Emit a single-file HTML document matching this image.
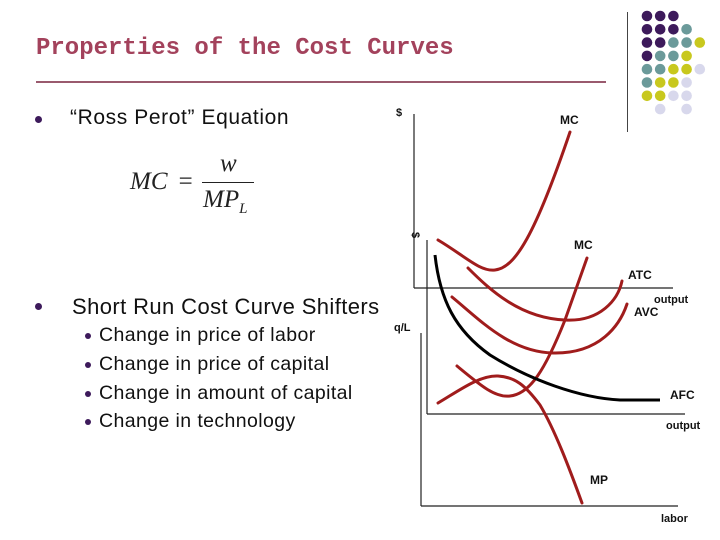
<!DOCTYPE html>
<html><head><meta charset="utf-8"><style>
body{margin:0;width:720px;height:540px;background:#fff;position:relative;overflow:hidden;font-family:"Liberation Sans",sans-serif}
.t{position:absolute;white-space:nowrap}
.b{position:absolute;width:7px;height:7px;border-radius:50%;background:#3d1a5b}
</style></head><body>
<div class="t" style="left:36px;top:35px;font-family:'Liberation Mono',monospace;font-weight:bold;font-size:24px;color:#a3425c">Properties of the Cost Curves</div>
<div style="position:absolute;left:36px;top:81px;width:570px;height:2px;background:#9a5a6e"></div>
<div style="position:absolute;left:627px;top:12px;width:1px;height:120px;background:#444"></div>
<svg id="dots" width="720" height="540" style="position:absolute;left:0;top:0"></svg>
<div class="b" style="left:35px;top:116px"></div>
<div class="t" style="left:70px;top:106px;font-size:21px;letter-spacing:0.6px;color:#111">“Ross Perot” Equation</div>
<div style="position:absolute;left:130px;top:150px;font-family:'Liberation Serif',serif;font-style:italic;font-size:25px;color:#222">
<span style="position:absolute;left:0;top:18px">MC</span><span style="position:absolute;left:47px;top:18px">=</span>
<span style="position:absolute;left:90px;top:0">w</span>
<div style="position:absolute;left:72px;top:32px;width:52px;height:1px;background:#222"></div>
<span style="position:absolute;left:73px;top:36px">MP<sub style="font-size:15px">L</sub></span></div>
<div class="b" style="left:35px;top:303px"></div>
<div class="t" style="left:72px;top:294px;font-size:22px;letter-spacing:0.4px;color:#111">Short Run Cost Curve Shifters</div>
<div class="b" style="left:85px;top:333px;width:6px;height:6px"></div>
<div class="t" style="left:99px;top:324px;font-size:19.5px;letter-spacing:0.4px;color:#111">Change in price of labor</div>
<div class="b" style="left:85px;top:362px;width:6px;height:6px"></div>
<div class="t" style="left:99px;top:353px;font-size:19.5px;letter-spacing:0.4px;color:#111">Change in price of capital</div>
<div class="b" style="left:85px;top:391px;width:6px;height:6px"></div>
<div class="t" style="left:99px;top:382px;font-size:19.5px;letter-spacing:0.4px;color:#111">Change in amount of capital</div>
<div class="b" style="left:85px;top:419px;width:6px;height:6px"></div>
<div class="t" style="left:99px;top:410px;font-size:19.5px;letter-spacing:0.4px;color:#111">Change in technology</div>

<svg width="720" height="540" style="position:absolute;left:0;top:0" font-family="Liberation Sans, sans-serif" font-weight="bold" font-size="12">
<g stroke="#222" stroke-width="1.2">
<line x1="414" y1="114" x2="414" y2="288"/><line x1="414" y1="288" x2="673" y2="288"/>
<line x1="427" y1="240" x2="427" y2="414"/><line x1="427" y1="414" x2="685" y2="414"/>
<line x1="421" y1="333" x2="421" y2="506"/><line x1="421" y1="506" x2="678" y2="506"/>
</g>
<g fill="none" stroke="#a01c1c" stroke-width="3" stroke-linecap="round">
<path d="M438,240 C465,256 480,272 495,270 C515,268 535,235 570,132"/>
<path d="M457,366 C480,385 495,398 510,396 C530,394 545,370 565,320 L587,258"/>
<path d="M438,403 C460,390 480,375 498,376 C515,377 525,385 540,405 C555,430 570,470 582,503"/>
<path d="M468,268 C490,290 520,318 565,320 C600,322 618,300 622,281"/>
<path d="M452,297 C480,320 510,352 553,353 C600,354 620,325 627,304"/>
</g>
<path d="M435,255 C440,300 455,330 490,355 C530,380 580,398 620,400 L660,400" fill="none" stroke="#000" stroke-width="3"/>
<g fill="#111">
<text x="396" y="116" font-size="11">$</text>
<text x="560" y="124">MC</text>
<text x="574" y="249">MC</text>
<text x="628" y="279">ATC</text>
<text x="654" y="303" font-size="11">output</text>
<text x="634" y="316">AVC</text>
<text x="670" y="399">AFC</text>
<text x="666" y="429" font-size="11">output</text>
<text x="394" y="331" font-size="11">q/L</text>
<text x="590" y="484">MP</text>
<text x="661" y="522" font-size="11">labor</text>
<text x="408" y="236" font-size="11" transform="rotate(90 412 236)">$</text>
</g>
</svg>
<script>
const rows=["PPP","PPPT","PPTTY","PTTY","TTYYL","TYYL","YYLL"," L L"];
const cols={P:"#3d1a5b",T:"#6b9a9a",Y:"#c8c81e",L:"#d8d8ec"};
const svg=document.getElementById('dots');
rows.forEach((r,i)=>{[...r].forEach((c,j)=>{if(c===' ')return;
const e=document.createElementNS('http://www.w3.org/2000/svg','circle');


e.setAttribute('cx',647+j*13.2);e.setAttribute('cy',16+i*13.3);e.setAttribute('r',5.3);e.setAttribute('fill',cols[c]);svg.appendChild(e);});});
</script>
</body></html>
